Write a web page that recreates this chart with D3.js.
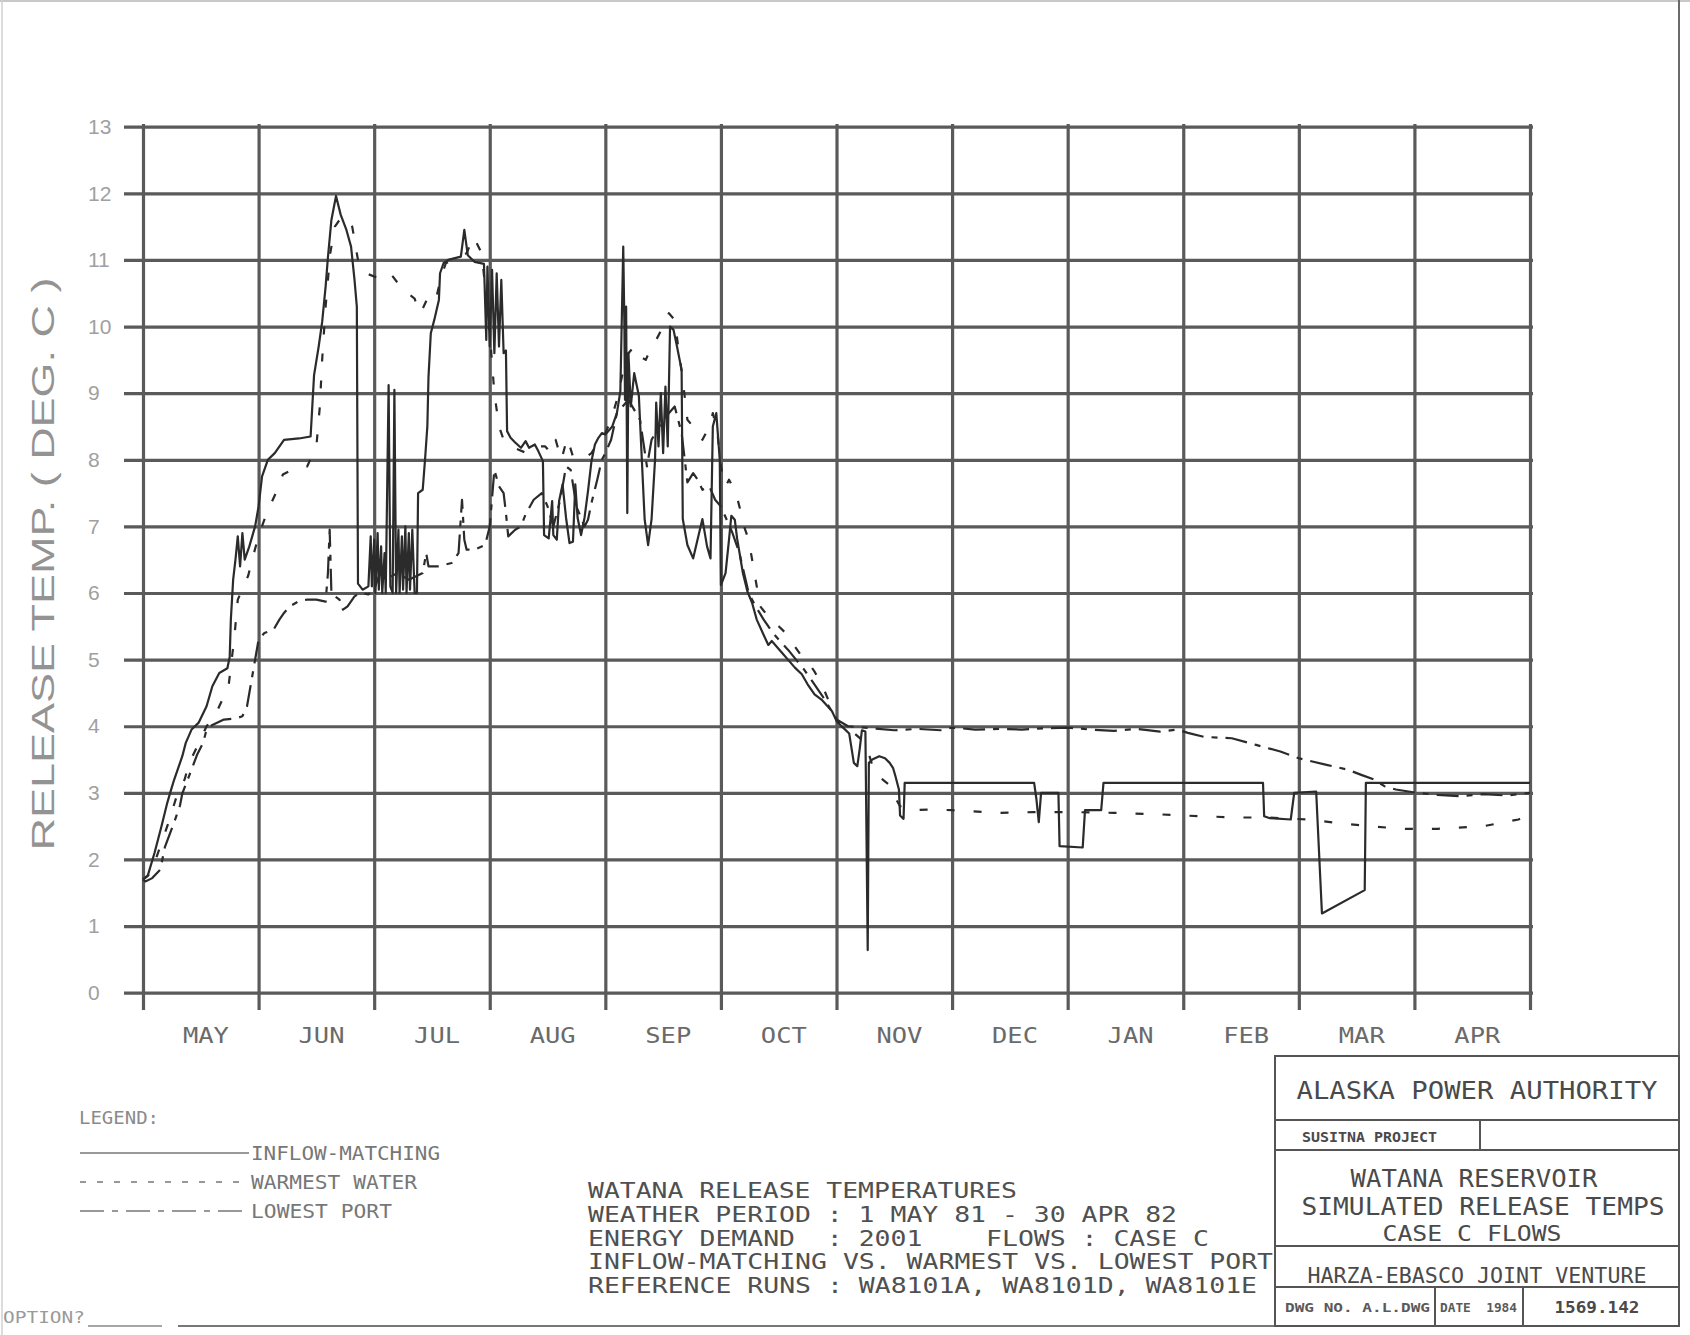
<!DOCTYPE html>
<html>
<head>
<meta charset="utf-8">
<script src="https://cdn.jsdelivr.net/npm/d3@7"></script>
<style>
  html, body { margin: 0; padding: 0; background: #fff; }
  svg { display: block; }
  text { white-space: pre; }
</style>
</head>
<body>
<svg id="chart" width="1690" height="1335"></svg>
<script>
// Month labels along the bottom (one per grid cell, May 1981 - Apr 1982)
const monthLabels = ["MAY","JUN","JUL","AUG","SEP","OCT","NOV","DEC","JAN","FEB","MAR","APR"];
// Temperature ticks, deg C
const tempTicks = d3.range(0, 14);

// Release temperature series: [months since 1 May, deg C]
const inflowMatching = [
  [0.00,1.70],[0.04,1.75],[0.10,2.10],[0.16,2.50],[0.21,2.85],[0.24,3.03],[0.27,3.20],[0.34,3.55],[0.37,3.75],
  [0.42,3.95],[0.48,4.05],[0.55,4.30],[0.60,4.60],[0.66,4.80],[0.73,4.87],[0.75,5.04],[0.76,5.60],[0.78,6.20],
  [0.80,6.50],[0.82,6.85],[0.84,6.40],[0.86,6.90],[0.88,6.50],[0.92,6.70],[0.97,7.00],[1.00,7.30],[1.03,7.75],
  [1.08,8.00],[1.14,8.10],[1.22,8.30],[1.35,8.32],[1.45,8.35],[1.48,9.27],[1.52,9.70],[1.55,10.07],[1.58,10.60],
  [1.60,11.04],[1.63,11.60],[1.67,11.96],[1.71,11.68],[1.76,11.45],[1.80,11.20],[1.83,10.70],[1.85,10.30],
  [1.86,6.14],[1.90,6.05],[1.95,6.10],[1.97,6.85],[1.98,6.10],[2.00,6.80],[2.01,6.00],[2.03,6.90],[2.04,6.05],
  [2.06,6.70],[2.07,6.00],[2.09,6.60],[2.10,6.00],[2.125,9.12],[2.14,6.10],[2.16,6.00],[2.175,9.05],[2.19,6.00],
  [2.21,6.95],[2.22,6.00],[2.24,6.85],[2.25,6.05],[2.27,7.00],[2.28,6.00],[2.30,6.90],[2.31,6.05],[2.33,6.95],
  [2.35,6.00],[2.37,6.00],[2.38,7.50],[2.42,7.55],[2.44,8.00],[2.46,8.50],[2.47,9.24],[2.49,9.90],[2.52,10.10],
  [2.56,10.40],[2.57,10.80],[2.60,10.95],[2.64,11.00],[2.75,11.05],[2.78,11.45],[2.81,11.07],[2.87,10.97],
  [2.95,10.94],[2.97,9.80],[2.98,10.90],[3.00,9.70],[3.02,10.85],[3.04,9.60],[3.06,10.80],[3.08,9.70],[3.10,10.70],
  [3.12,9.60],[3.14,9.64],[3.15,8.43],[3.18,8.33],[3.22,8.26],[3.27,8.18],[3.31,8.28],[3.34,8.18],[3.39,8.23],
  [3.42,8.13],[3.46,7.98],[3.47,6.87],[3.51,6.82],[3.54,7.38],[3.55,6.87],[3.58,6.80],[3.60,7.38],[3.63,7.63],
  [3.66,7.13],[3.69,6.75],[3.72,6.77],[3.74,7.63],[3.76,7.13],[3.79,6.87],[3.82,7.13],[3.85,7.53],[3.88,7.98],
  [3.91,8.23],[3.94,8.33],[3.97,8.40],[4.00,8.38],[4.06,8.50],[4.10,8.70],[4.13,9.03],[4.14,9.90],[4.155,11.20],
  [4.165,10.00],[4.17,8.90],[4.18,10.30],[4.19,7.20],[4.20,9.60],[4.22,8.80],[4.25,9.30],[4.29,8.96],[4.34,7.11],
  [4.37,6.72],[4.40,7.11],[4.43,8.00],[4.44,8.86],[4.46,8.20],[4.48,9.00],[4.50,8.10],[4.52,9.10],[4.54,8.20],
  [4.56,10.00],[4.59,9.95],[4.62,9.70],[4.66,9.35],[4.67,7.11],[4.71,6.72],[4.76,6.52],[4.80,6.82],[4.84,7.11],
  [4.88,6.70],[4.91,6.52],[4.93,8.50],[4.96,8.70],[4.99,8.00],[5.00,6.12],[5.04,6.30],[5.07,6.80],[5.09,7.16],
  [5.12,7.10],[5.14,6.82],[5.19,6.30],[5.23,6.02],[5.27,5.85],[5.31,5.60],[5.37,5.37],[5.41,5.22],[5.44,5.28],
  [5.53,5.10],[5.58,5.00],[5.64,4.88],[5.70,4.78],[5.75,4.63],[5.81,4.48],[5.87,4.40],[5.96,4.23],[6.00,4.08],
  [6.05,3.99],[6.11,3.89],[6.15,3.45],[6.18,3.40],[6.20,3.65],[6.22,3.94],[6.25,3.92],[6.27,0.64],[6.28,3.45],
  [6.31,3.50],[6.37,3.55],[6.42,3.52],[6.46,3.45],[6.49,3.37],[6.51,3.25],[6.54,3.05],[6.55,2.66],[6.58,2.61],
  [6.59,3.15],[7.71,3.15],[7.73,2.90],[7.75,2.56],[7.77,3.00],[7.92,3.00],[7.93,2.20],[8.13,2.18],[8.15,2.74],
  [8.29,2.74],[8.31,3.15],[9.69,3.15],[9.70,2.65],[9.75,2.62],[9.93,2.60],[9.96,3.00],[10.15,3.02],[10.20,1.19],
  [10.57,1.54],[10.58,3.15],[12.00,3.15]
];

const warmestWater = [
  [0.00,1.70],[0.07,1.80],[0.15,2.20],[0.22,2.55],[0.30,3.00],[0.36,3.20],[0.40,3.45],[0.49,3.77],[0.55,4.00],
  [0.62,4.15],[0.66,4.30],[0.74,4.60],[0.79,5.33],[0.82,5.90],[0.87,6.10],[0.91,6.26],[0.96,6.60],[1.00,6.86],
  [1.05,7.10],[1.11,7.35],[1.17,7.58],[1.21,7.78],[1.30,7.86],[1.42,7.90],[1.50,8.20],[1.53,8.80],[1.55,9.50],
  [1.58,10.30],[1.62,11.10],[1.66,11.50],[1.72,11.65],[1.78,11.60],[1.81,11.50],[1.84,11.20],[1.87,10.90],
  [1.93,10.80],[2.00,10.75],[2.06,10.72],[2.14,10.80],[2.25,10.55],[2.35,10.42],[2.39,10.20],[2.42,10.27],
  [2.46,10.42],[2.50,10.35],[2.54,10.45],[2.58,10.75],[2.62,10.95],[2.70,11.02],[2.80,11.10],[2.86,11.35],
  [2.93,11.10],[2.96,10.60],[3.00,9.90],[3.04,9.00],[3.08,8.50],[3.12,8.30],[3.18,8.20],[3.25,8.15],[3.32,8.10],
  [3.40,8.20],[3.48,8.20],[3.53,8.10],[3.57,8.30],[3.62,8.00],[3.67,8.33],[3.72,8.05],[3.80,8.00],[3.88,8.10],
  [3.95,8.30],[4.00,8.40],[4.05,8.60],[4.10,8.90],[4.15,9.30],[4.20,9.60],[4.25,9.70],[4.30,9.55],[4.35,9.50],
  [4.40,9.70],[4.44,9.80],[4.50,10.00],[4.55,10.20],[4.60,10.10],[4.63,9.70],[4.67,9.20],[4.71,8.60],[4.76,8.50],
  [4.81,8.40],[4.84,8.30],[4.90,8.50],[4.93,8.70],[4.97,8.40],[5.00,7.90],[5.04,7.60],[5.07,7.70],[5.13,7.50],
  [5.16,7.30],[5.20,7.00],[5.24,6.80],[5.30,6.20],[5.34,5.80],[5.43,5.60],[5.50,5.50],[5.56,5.40],[5.63,5.22],
  [5.70,5.05],[5.76,4.95],[5.81,4.82],[5.88,4.60],[5.94,4.35],[6.00,4.10],[6.05,4.02],[6.15,3.90],[6.25,3.75],
  [6.33,3.30],[6.40,3.20],[6.45,3.13],[6.50,2.95],[6.55,2.80],[6.62,2.74],[6.80,2.75],[7.00,2.74],[7.39,2.70],
  [7.70,2.71],[8.08,2.71],[8.40,2.70],[8.76,2.68],[9.13,2.65],[9.48,2.63],[9.72,2.63],[10.08,2.60],[10.33,2.55],
  [10.60,2.50],[10.90,2.46],[11.20,2.46],[11.60,2.50],[11.90,2.60],[12.00,2.68]
];

const lowestPort = [
  [0.00,1.70],[0.02,1.67],[0.08,1.72],[0.15,1.85],[0.19,2.19],[0.27,2.56],[0.32,2.81],[0.34,2.99],[0.40,3.26],
  [0.47,3.58],[0.52,3.75],[0.55,3.95],[0.60,4.02],[0.70,4.10],[0.81,4.12],[0.86,4.15],[0.90,4.30],[0.93,4.60],
  [0.95,4.80],[0.98,5.10],[1.00,5.30],[1.05,5.40],[1.13,5.45],[1.18,5.60],[1.22,5.70],[1.27,5.80],[1.35,5.88],
  [1.42,5.90],[1.50,5.90],[1.58,5.87],[1.60,6.30],[1.615,6.95],[1.63,6.00],[1.66,5.95],[1.70,5.90],[1.73,5.75],
  [1.77,5.80],[1.83,5.95],[1.88,6.00],[1.95,5.98],[2.00,6.05],[2.05,6.30],[2.10,6.20],[2.20,6.30],[2.30,6.20],
  [2.42,6.30],[2.45,6.60],[2.47,6.40],[2.55,6.40],[2.67,6.45],[2.73,6.60],[2.76,7.40],[2.78,6.80],[2.80,6.65],
  [2.87,6.65],[2.96,6.72],[3.00,7.00],[3.04,7.85],[3.08,7.60],[3.12,7.50],[3.14,7.20],[3.16,6.85],[3.22,6.95],
  [3.27,7.00],[3.31,7.18],[3.38,7.40],[3.45,7.50],[3.50,7.30],[3.55,7.00],[3.61,7.40],[3.66,7.90],[3.70,7.85],
  [3.75,7.30],[3.82,7.00],[3.85,7.10],[3.88,7.35],[3.93,7.70],[3.97,8.00],[4.00,8.10],[4.05,8.30],[4.10,8.70],
  [4.20,8.90],[4.30,8.60],[4.36,7.90],[4.40,8.30],[4.50,8.60],[4.60,8.80],[4.66,8.40],[4.71,7.66],[4.76,7.80],
  [4.80,7.70],[4.84,7.55],[4.90,7.60],[4.95,7.40],[5.00,7.30],[5.05,7.10],[5.10,6.90],[5.16,6.60],[5.20,6.30],
  [5.24,6.00],[5.30,5.80],[5.37,5.60],[5.45,5.40],[5.50,5.30],[5.58,5.15],[5.65,5.00],[5.72,4.85],[5.80,4.65],
  [5.88,4.45],[5.95,4.25],[6.00,4.10],[6.10,4.00],[6.30,3.97],[6.50,3.94],[6.70,3.96],[6.90,3.94],[7.00,3.98],
  [7.20,3.95],[7.40,3.96],[7.60,3.95],[7.80,3.97],[8.00,3.98],[8.20,3.95],[8.40,3.93],[8.60,3.96],[8.80,3.92],
  [8.95,3.95],[9.04,3.90],[9.18,3.84],[9.42,3.82],[9.63,3.72],[9.84,3.62],[10.00,3.52],[10.24,3.42],[10.42,3.35],
  [10.54,3.27],[10.65,3.20],[10.74,3.10],[10.84,3.05],[11.02,3.00],[11.20,2.97],[11.40,2.95],[11.60,2.98],
  [11.80,2.96],[12.00,3.00]
];

const legendLabels = ["INFLOW-MATCHING", "WARMEST WATER", "LOWEST PORT"];

const noteLines = [
  "WATANA RELEASE TEMPERATURES",
  "WEATHER PERIOD : 1 MAY 81 - 30 APR 82",
  "ENERGY DEMAND  : 2001    FLOWS : CASE C",
  "INFLOW-MATCHING VS. WARMEST VS. LOWEST PORT",
  "REFERENCE RUNS : WA8101A, WA8101D, WA8101E"
];

const titleBlockLines = [
  "ALASKA POWER AUTHORITY",
  "SUSITNA PROJECT",
  "WATANA RESERVOIR",
  "SIMULATED RELEASE TEMPS",
  "CASE C FLOWS",
  "HARZA-EBASCO JOINT VENTURE",
  "DWG NO. A.L.DWG",
  "DATE  1984",
  "1569.142"
];

const svg = d3.select("#chart");
const FONT = "'DejaVu Sans Mono', 'Liberation Mono', monospace";
const SANS = "'Liberation Sans', 'DejaVu Sans', sans-serif";

// Plot area scales
const x = d3.scaleLinear().domain([0, 12]).range([143, 1530]);
const y = d3.scaleLinear().domain([0, 13]).range([992.7, 126.7]);

function label(parent, str, px, py, opts = {}) {
  const t = parent.append("text")
    .attr("x", px).attr("y", py)
    .attr("xml:space", "preserve")
    .attr("font-family", opts.font || FONT)
    .attr("font-size", opts.size || 20)
    .attr("font-weight", opts.weight || "normal")
    .attr("fill", opts.fill || "#555")
    .attr("text-anchor", opts.anchor || "start")
    .text(str);
  if (opts.width) t.attr("textLength", opts.width).attr("lengthAdjust", "spacingAndGlyphs");
  return t;
}

// Sheet edges
svg.append("line").attr("x1", 0).attr("x2", 1690).attr("y1", 1).attr("y2", 1)
  .attr("stroke", "#c8c8c8").attr("stroke-width", 2);
svg.append("line").attr("x1", 2).attr("x2", 2).attr("y1", 0).attr("y2", 1335)
  .attr("stroke", "#d0d0d0").attr("stroke-width", 1.5);
svg.append("line").attr("x1", 1679).attr("x2", 1679).attr("y1", 0).attr("y2", 1056)
  .attr("stroke", "#6a6a6a").attr("stroke-width", 2);

// Horizontal grid + temperature labels
const yAxis = d3.axisLeft(y).tickValues(tempTicks).tickSize(-(1533 - 124)).tickPadding(0);
svg.append("g").attr("transform", "translate(124,0)").call(yAxis)
  .call(g => g.select(".domain").remove())
  .call(g => g.selectAll(".tick line").attr("stroke", "#5a5a5a").attr("stroke-width", 3.2))
  .call(g => g.selectAll(".tick text")
    .attr("x", -36).attr("text-anchor", "start")
    .attr("font-family", SANS)
    .attr("font-size", 21).attr("fill", "#a0a0a0"));

// Vertical grid (month boundaries)
const xGrid = d3.axisBottom(x).tickValues(d3.range(0, 13)).tickSize(-(1010 - 124)).tickFormat("");
svg.append("g").attr("transform", "translate(0,1010)").call(xGrid)
  .call(g => g.select(".domain").remove())
  .call(g => g.selectAll(".tick line").attr("stroke", "#5a5a5a").attr("stroke-width", 3.2));

// Month names centred in each cell
const xLabels = d3.axisBottom(x).tickValues(d3.range(12).map(i => i + 0.54))
  .tickFormat((d, i) => monthLabels[i]).tickSize(0);
svg.append("g").attr("transform", "translate(0,1043)").call(xLabels)
  .call(g => g.select(".domain").remove())
  .call(g => g.selectAll(".tick text")
    .attr("y", 0).attr("dy", null)
    .attr("font-family", FONT).attr("font-size", 22).attr("fill", "#6a6a6a")
    .attr("textLength", 46).attr("lengthAdjust", "spacingAndGlyphs"));

// Axis title
label(svg, "RELEASE TEMP. ( DEG. C )", 0, 0, {size: 31, fill: "#939393", anchor: "middle", width: 573, font: SANS})
  .attr("transform", "translate(54,564) rotate(-90)");

// Series
const line = d3.line().x(d => x(d[0])).y(d => y(d[1]));
const plot = svg.append("g").attr("fill", "none").attr("stroke-linejoin", "round");

plot.append("path").datum(lowestPort).attr("d", line)
  .attr("stroke", "#2b2b2b").attr("stroke-width", 2.2).attr("stroke-dasharray", "22,8,6,8");
plot.append("path").datum(warmestWater).attr("d", line)
  .attr("stroke", "#2b2b2b").attr("stroke-width", 2.2).attr("stroke-dasharray", "8,19");
plot.append("path").datum(inflowMatching).attr("d", line)
  .attr("stroke", "#2b2b2b").attr("stroke-width", 2.2);

// Legend
const legend = svg.append("g");
label(legend, "LEGEND:", 79, 1124, {size: 17, fill: "#8a8a8a", width: 80});
const legendRows = [1153, 1182, 1211];
const legendDash = [null, "6,11", "24,8,6,8"];
const legendTextW = [189, 166, 141];
legendLabels.forEach((name, i) => {
  legend.append("line")
    .attr("x1", 80).attr("x2", 249).attr("y1", legendRows[i]).attr("y2", legendRows[i])
    .attr("stroke", "#777").attr("stroke-width", 1.6)
    .attr("stroke-dasharray", legendDash[i]);
  label(legend, name, 251, legendRows[i] + 7, {size: 19, fill: "#777", width: legendTextW[i]});
});

// Run description block
const notes = svg.append("g");
const noteY = [1198, 1222, 1246, 1269, 1293];
noteLines.forEach((s, i) => {
  label(notes, s, 588, noteY[i], {size: 21, fill: "#505050", width: s.length * 16 - 3});
});

// Prompt line at the foot of the sheet
label(svg, "OPTION?", 3, 1323, {size: 16, fill: "#9a9a9a", width: 82});
svg.append("line").attr("x1", 88).attr("x2", 162).attr("y1", 1326).attr("y2", 1326)
  .attr("stroke", "#888").attr("stroke-width", 1.5);
svg.append("line").attr("x1", 178).attr("x2", 1275).attr("y1", 1326).attr("y2", 1326)
  .attr("stroke", "#777").attr("stroke-width", 1.8);

// Title block
const tb = svg.append("g").attr("stroke", "#555").attr("stroke-width", 2).attr("fill", "none");
tb.append("rect").attr("x", 1275).attr("y", 1056).attr("width", 404).attr("height", 270);
[1120, 1150, 1246, 1287].forEach(yy =>
  tb.append("line").attr("x1", 1275).attr("x2", 1679).attr("y1", yy).attr("y2", yy));
tb.append("line").attr("x1", 1480).attr("x2", 1480).attr("y1", 1120).attr("y2", 1150);
tb.append("line").attr("x1", 1435).attr("x2", 1435).attr("y1", 1287).attr("y2", 1326);
tb.append("line").attr("x1", 1523).attr("x2", 1523).attr("y1", 1287).attr("y2", 1326);

const tbt = svg.append("g");
label(tbt, titleBlockLines[0], 1477, 1099, {size: 24, fill: "#4a4a4a", anchor: "middle", width: 361});
label(tbt, titleBlockLines[1], 1302, 1142, {size: 14, weight: "bold", fill: "#4a4a4a", width: 135});
label(tbt, titleBlockLines[2], 1474, 1187, {size: 24, fill: "#4a4a4a", anchor: "middle", width: 247});
label(tbt, titleBlockLines[3], 1483, 1215, {size: 24, fill: "#4a4a4a", anchor: "middle", width: 363});
label(tbt, titleBlockLines[4], 1472, 1241, {size: 21, fill: "#4a4a4a", anchor: "middle", width: 179});
label(tbt, titleBlockLines[5], 1477, 1283, {size: 22, fill: "#4a4a4a", anchor: "middle", width: 339});
label(tbt, titleBlockLines[6], 1285, 1312, {size: 12, weight: "bold", fill: "#5a5a5a", width: 145});
label(tbt, titleBlockLines[7], 1440, 1312, {size: 12, weight: "bold", fill: "#5a5a5a", width: 77});
label(tbt, titleBlockLines[8], 1597, 1313, {size: 15, weight: "bold", fill: "#4a4a4a", anchor: "middle", width: 85});
</script>
</body>
</html>
